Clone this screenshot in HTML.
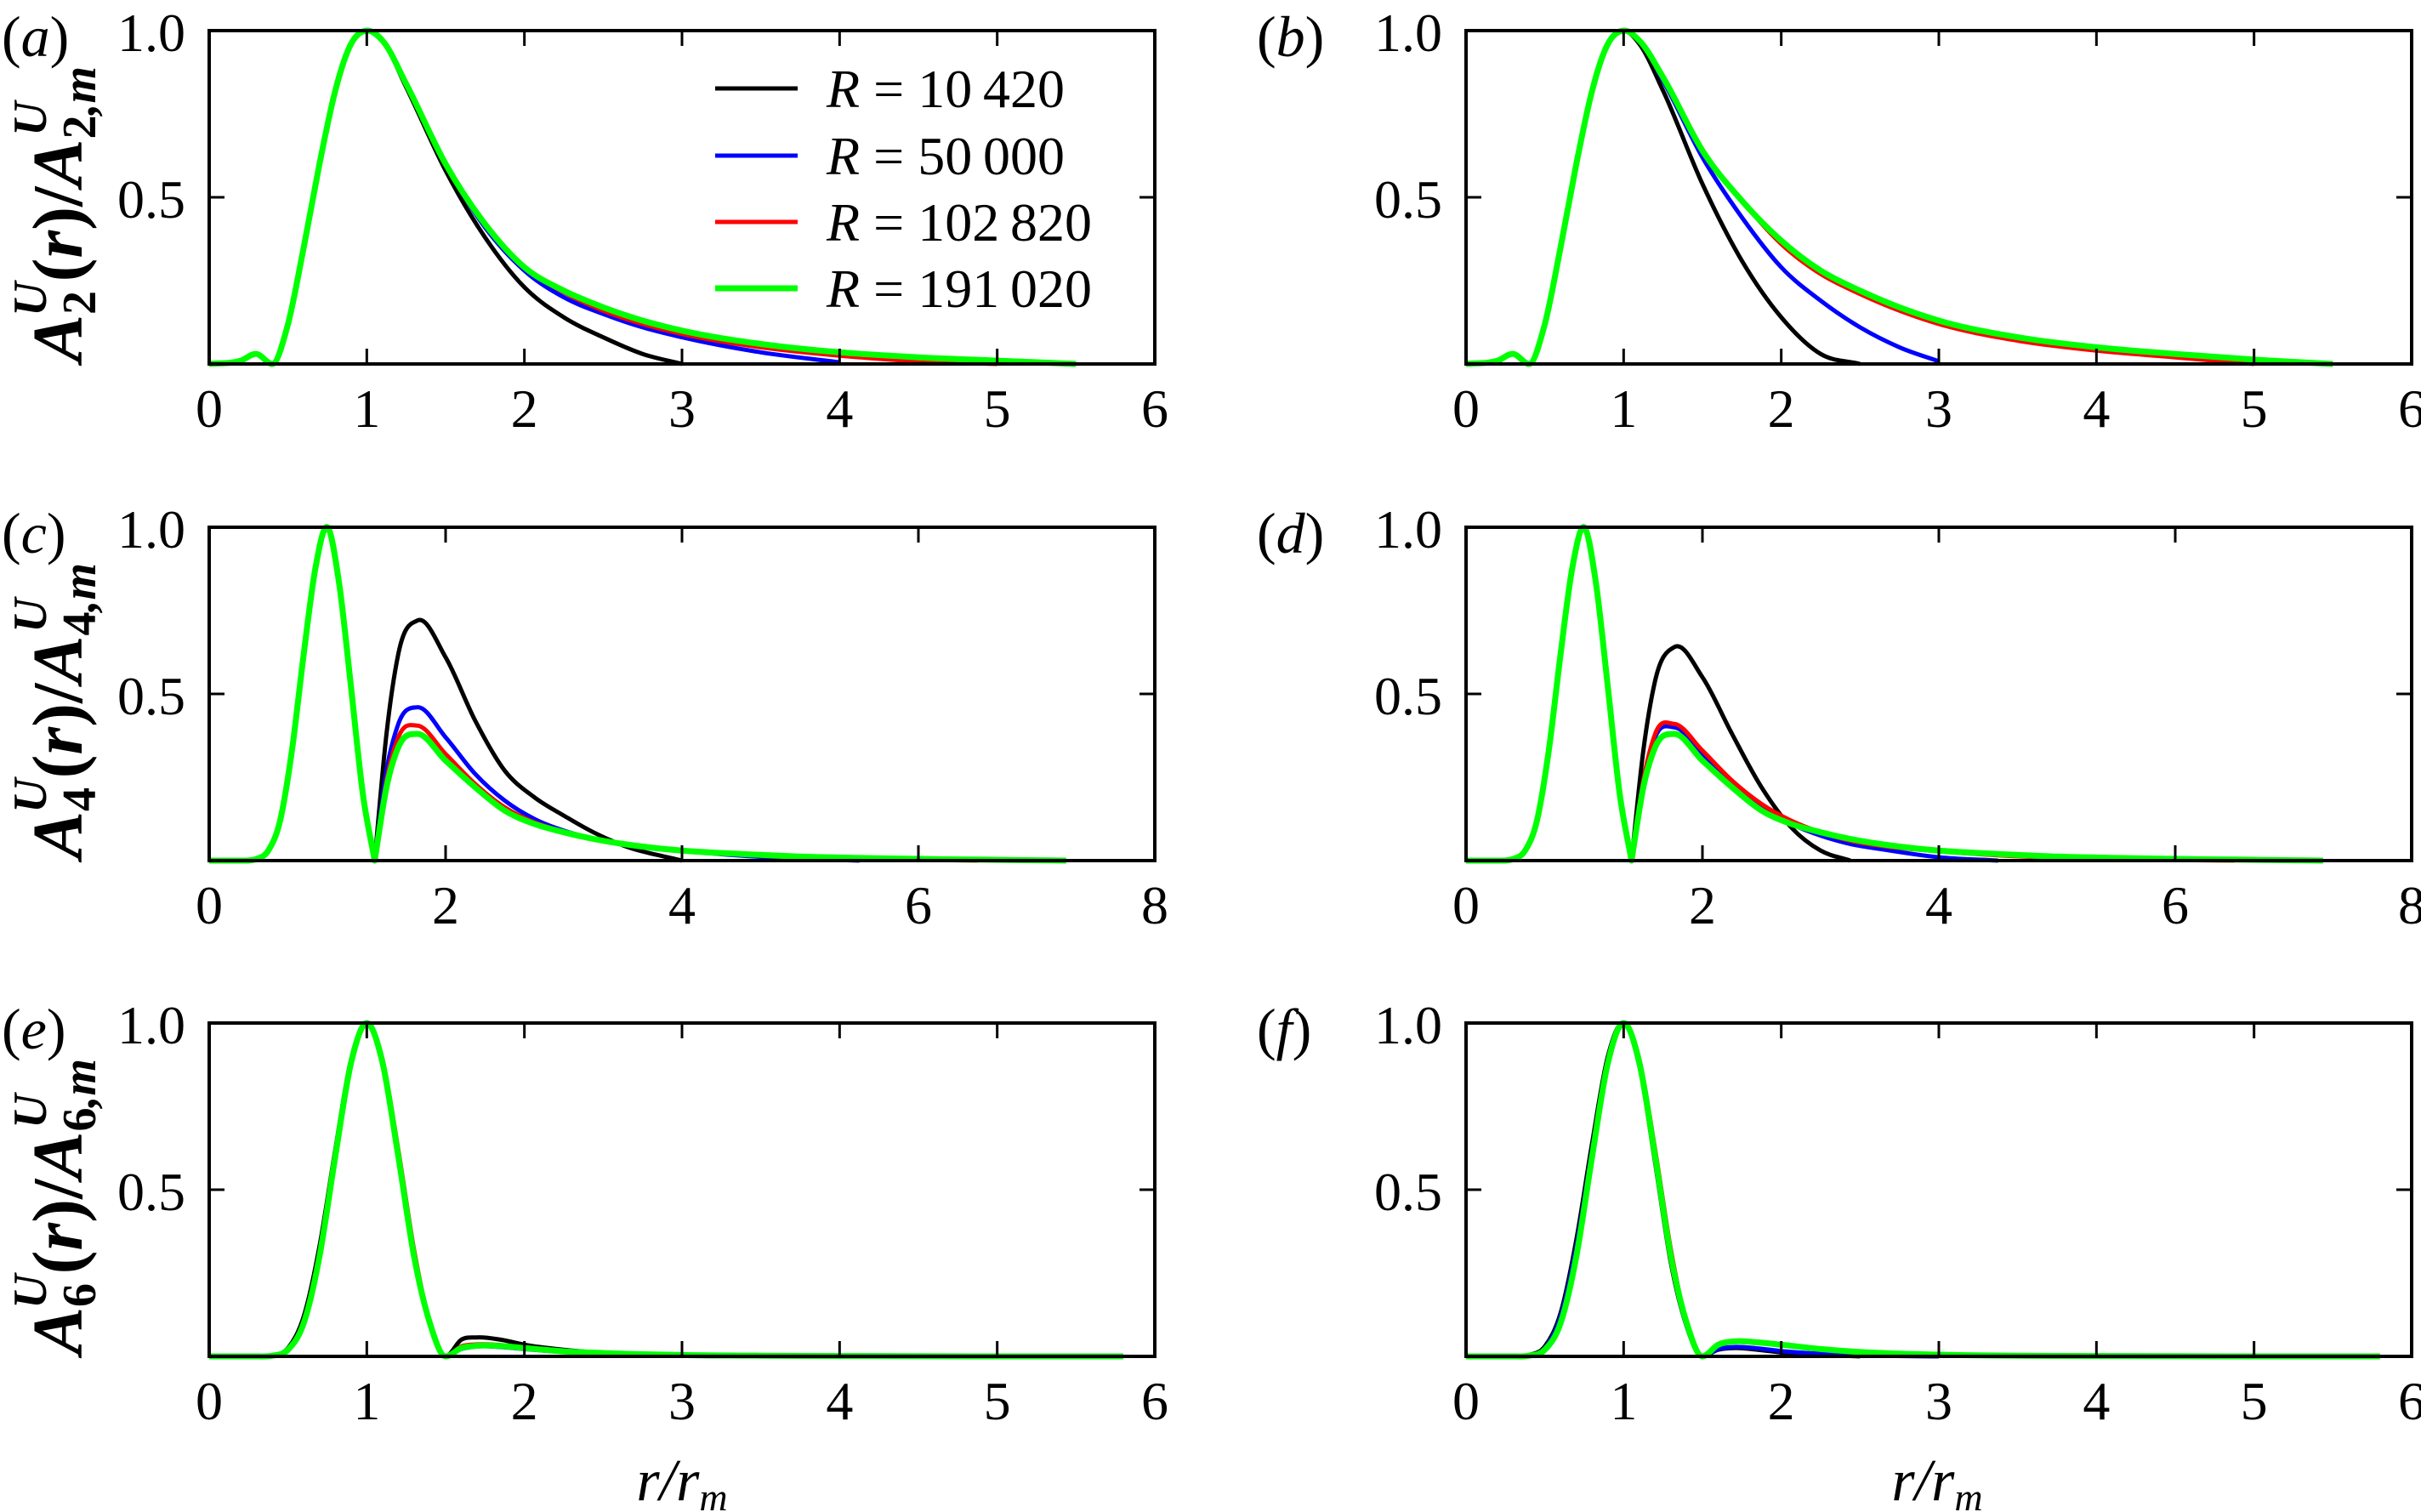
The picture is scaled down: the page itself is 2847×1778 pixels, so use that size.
<!DOCTYPE html>
<html><head><meta charset="utf-8">
<style>
html,body{margin:0;padding:0;background:#fff;}
svg{display:block;font-family:"Liberation Serif","Times New Roman",serif;}
svg text{font-family:"Liberation Serif","Times New Roman",serif;fill:#000;}
</style></head>
<body>
<svg id="fig" width="2847" height="1778" viewBox="0 0 2847 1778" font-family="Liberation Serif, serif" xmlns="http://www.w3.org/2000/svg"></svg>
<script>
// ---------- data ----------
const seriesNames = ["R = 10 420", "R = 50 000", "R = 102 820", "R = 191 020"];
const seriesColors = ["#000000", "#0000ff", "#ff0000", "#00ff00"];

const rRow1 = [0,0.2,0.3,0.4,0.5,0.6,0.7,0.8,0.9,1.0,1.1,1.25,1.5,1.75,2,2.25,2.5,2.75,3,3.5,4,4.5,5,5.5];
const aBlack = [0,0.01,0.03,0,0.12,0.35,0.6,0.82,0.96,1,0.97,0.83,0.58,0.38,0.23,0.14,0.08,0.03,0,null,null,null,null,null];
const aBlue  = [0,0.01,0.03,0,0.12,0.35,0.6,0.82,0.96,1,0.97,0.84,0.6,0.41,0.28,0.2,0.15,0.11,0.08,0.035,0.005,null,null,null];
const aRed   = [0,0.01,0.03,0,0.12,0.35,0.6,0.82,0.96,1,0.97,0.84,0.6,0.42,0.29,0.215,0.16,0.12,0.09,0.05,0.025,0.008,0,null];
const aGreen = [0,0.01,0.03,0,0.12,0.35,0.6,0.82,0.96,1,0.97,0.84,0.6,0.42,0.29,0.22,0.17,0.13,0.10,0.06,0.035,0.02,0.01,0];

const bBlack = [0,0.01,0.03,0,0.12,0.35,0.6,0.82,0.96,1,0.96,0.82,0.54,0.31,0.14,0.03,0,null,null,null,null,null,null,null];
const bBlue  = [0,0.01,0.03,0,0.12,0.35,0.6,0.82,0.96,1,0.97,0.85,0.62,0.44,0.29,0.19,0.11,0.05,0.008,null,null,null,null,null];
const bRed   = [0,0.01,0.03,0,0.12,0.35,0.6,0.82,0.96,1,0.97,0.86,0.64,0.49,0.36,0.27,0.21,0.16,0.12,0.07,0.04,0.02,0,null];
const bGreen = [0,0.01,0.03,0,0.12,0.35,0.6,0.82,0.96,1,0.97,0.86,0.64,0.49,0.37,0.28,0.22,0.17,0.13,0.08,0.05,0.03,0.013,0];

const rRow2 = [0,0.3,0.4,0.5,0.6,0.7,0.8,0.9,1.0,1.1,1.2,1.3,1.4,1.5,1.6,1.76,2,2.25,2.5,2.75,3,3.25,3.5,4,4.5,5,5.5,6,6.5,7,7.25];
const cBlack = [0,0,0.005,0.03,0.12,0.33,0.62,0.88,1,0.83,0.52,0.2,0,0.38,0.62,0.72,0.61,0.42,0.27,0.19,0.135,0.085,0.046,0,null,null,null,null,null,null,null];
const cBlue  = [0,0,0.005,0.03,0.12,0.33,0.62,0.88,1,0.83,0.52,0.2,0,0.27,0.41,0.46,0.37,0.26,0.18,0.125,0.09,0.066,0.05,0.03,0.015,0.006,0,null,null,null,null];
const cRed   = [0,0,0.005,0.03,0.12,0.33,0.62,0.88,1,0.83,0.52,0.2,0,0.24,0.37,0.405,0.32,0.23,0.16,0.115,0.087,0.065,0.05,0.03,0.018,0.01,0.006,0.003,0,null,null];
const cGreen = [0,0,0.005,0.03,0.12,0.33,0.62,0.88,1,0.83,0.52,0.2,0,0.22,0.34,0.38,0.30,0.22,0.15,0.11,0.085,0.065,0.05,0.03,0.02,0.012,0.008,0.005,0.003,0.001,0];

const dBlack = [0,0,0.005,0.03,0.12,0.33,0.62,0.88,1,0.83,0.52,0.2,0,0.33,0.54,0.64,0.55,0.38,0.22,0.10,0.03,0,null,null,null,null,null,null,null,null,null];
const dBlue  = [0,0,0.005,0.03,0.12,0.33,0.62,0.88,1,0.83,0.52,0.2,0,0.24,0.37,0.40,0.32,0.23,0.16,0.11,0.075,0.05,0.035,0.01,0,null,null,null,null,null,null];
const dRed   = [0,0,0.005,0.03,0.12,0.33,0.62,0.88,1,0.83,0.52,0.2,0,0.24,0.38,0.41,0.33,0.24,0.17,0.12,0.085,0.06,0.045,0.028,0.016,0.009,0.005,0.002,0,null,null];
const dGreen = [0,0,0.005,0.03,0.12,0.33,0.62,0.88,1,0.83,0.52,0.2,0,0.22,0.34,0.38,0.30,0.22,0.15,0.11,0.085,0.065,0.05,0.03,0.02,0.012,0.008,0.005,0.003,0.001,0];

const rRow3 = [0,0.3,0.4,0.5,0.6,0.7,0.8,0.9,1.0,1.1,1.2,1.3,1.4,1.5,1.6,1.7,1.85,2,2.25,2.5,3,3.5,4,5,5.8];
const eBlack = [0,0,0.003,0.025,0.12,0.33,0.62,0.89,1,0.88,0.6,0.3,0.1,0,0.05,0.057,0.05,0.035,0.02,0.01,0.002,0,null,null,null];
const eBlue  = [0,0,0.002,0.02,0.1,0.31,0.61,0.89,1,0.89,0.61,0.31,0.1,0,0.022,0.03,0.028,0.022,0.013,0.008,0.003,0.001,0,null,null];
const eRed   = [0,0,0.002,0.02,0.1,0.3,0.6,0.88,1,0.89,0.62,0.32,0.1,0,0.03,0.036,0.034,0.027,0.016,0.01,0.004,0.002,0.001,0,null];
const eGreen = [0,0,0.002,0.02,0.1,0.3,0.6,0.88,1,0.88,0.6,0.3,0.1,0,0.025,0.032,0.031,0.025,0.015,0.01,0.004,0.002,0.001,0,0];

const fBlack = [0,0,0.004,0.03,0.13,0.35,0.64,0.9,1,0.87,0.58,0.28,0.09,0,0.02,0.025,0.02,0.012,0.005,0,null,null,null,null,null];
const fBlue  = [0,0,0.003,0.025,0.12,0.33,0.62,0.89,1,0.87,0.59,0.29,0.09,0,0.022,0.028,0.024,0.016,0.008,0.003,0,null,null,null,null];
const fRed   = [0,0,0.002,0.02,0.1,0.3,0.6,0.88,1,0.89,0.62,0.32,0.1,0,0.035,0.045,0.042,0.035,0.022,0.013,0.005,0.002,0.001,0,null];
const fGreen = [0,0,0.002,0.02,0.1,0.3,0.6,0.88,1,0.88,0.6,0.3,0.1,0,0.035,0.045,0.042,0.035,0.022,0.013,0.005,0.002,0.001,0,0];

const xTicks6 = [0,1,2,3,4,5,6];
const xTicks8 = [0,2,4,6,8];
const yTicks = [0.5,1.0];
const yTickLabels = ["0.5","1.0"];
const panelLetters = ["a","b","c","d","e","f"];
// ----------------------------------------------------

const NS = "http://www.w3.org/2000/svg";
const svg = document.getElementById("fig");
const FF = '"Liberation Serif", serif';
function mk(tag, attrs, parent){
  const e = document.createElementNS(NS, tag);
  for (const k in attrs) e.setAttribute(k, attrs[k]);
  if (tag === "text") e.setAttribute("font-family", "Liberation Serif, serif");
  (parent||svg).appendChild(e);
  return e;
}

const colX = [246, 1724];
const rowY = [36, 620, 1203];
const PW = 1112, PH = 392;

const panels = [
  {row:0,col:0,r:rRow1,xmax:6,ticks:xTicks6,ys:[aBlack,aBlue,aRed,aGreen],n:2,legend:true},
  {row:0,col:1,r:rRow1,xmax:6,ticks:xTicks6,ys:[bBlack,bBlue,bRed,bGreen]},
  {row:1,col:0,r:rRow2,xmax:8,ticks:xTicks8,ys:[cBlack,cBlue,cRed,cGreen],n:4},
  {row:1,col:1,r:rRow2,xmax:8,ticks:xTicks8,ys:[dBlack,dBlue,dRed,dGreen]},
  {row:2,col:0,r:rRow3,xmax:6,ticks:xTicks6,ys:[eBlack,eBlue,eRed,eGreen],n:6},
  {row:2,col:1,r:rRow3,xmax:6,ticks:xTicks6,ys:[fBlack,fBlue,fRed,fGreen]},
];

// cubic Hermite through data points (non-uniform spacing aware), sharp corner at zero minima
function smoothPath(xs, ys, sx, sy){
  const n = xs.length;
  if (n < 2) return "";
  const left = [], right = [];
  for (let i = 0; i < n; i++){
    let ml, mr;
    if (i === 0){ ml = mr = (ys[1]-ys[0])/(xs[1]-xs[0]); }
    else if (i === n-1){ ml = mr = (ys[n-1]-ys[n-2])/(xs[n-1]-xs[n-2]); }
    else {
      const d0 = (ys[i]-ys[i-1])/(xs[i]-xs[i-1]);
      const d1 = (ys[i+1]-ys[i])/(xs[i+1]-xs[i]);
      if (ys[i] === 0 && ys[i-1] > 0.05 && ys[i+1] > 0.05){ ml = d0; mr = d1; }
      else if (d0*d1 <= 0 && ys[i] < 0.15 && ys[i] <= ys[i-1] && ys[i] <= ys[i+1]) { ml = mr = 0; }
      else {
        const h0 = xs[i]-xs[i-1], h1 = xs[i+1]-xs[i];
        const m = (d0*h1 + d1*h0)/(h0+h1);
        ml = mr = m;
      }
    }
    left.push(ml); right.push(mr);
  }
  let d = "M" + sx(xs[0]).toFixed(1) + "," + sy(ys[0]).toFixed(1);
  for (let i = 0; i < n-1; i++){
    const h = xs[i+1]-xs[i];
    const c1x = xs[i] + h/3, c1y = ys[i] + right[i]*h/3;
    const c2x = xs[i+1] - h/3, c2y = ys[i+1] - left[i+1]*h/3;
    d += "C" + sx(c1x).toFixed(1)+","+sy(c1y).toFixed(1)+" "+sx(c2x).toFixed(1)+","+sy(c2y).toFixed(1)+" "+sx(xs[i+1]).toFixed(1)+","+sy(ys[i+1]).toFixed(1);
  }
  return d;
}

panels.forEach((p, idx) => {
  const x0 = colX[p.col], y0 = rowY[p.row];
  const sx = v => x0 + v / p.xmax * PW;
  const sy = v => y0 + PH - v * PH;
  const g = mk("g", {});
  
  

  const cp = mk("clipPath", {id:"clip"+idx}, g);
  mk("rect", {x:x0-2, y:y0-8, width:PW+4, height:PH+20}, cp);

  const sg = mk("g", {"clip-path":"url(#clip"+idx+")"}, g);
  p.ys.forEach((ys, si) => {
    const xs = [], vs = [];
    for (let i = 0; i < p.r.length; i++){
      if (ys[i] === null || ys[i] === undefined) break;
      xs.push(p.r[i]); vs.push(ys[i]);
    }
    const path = mk("path", {d:smoothPath(xs, vs, sx, sy), fill:"none", stroke:seriesColors[si], "stroke-width": si===3?7:5, "stroke-linejoin":"round", "stroke-linecap":"butt"}, sg);
    
    
  });

  const frame = mk("rect", {x:x0, y:y0, width:PW, height:PH, fill:"none", stroke:"#000", "stroke-width":4}, g);
  
  

  p.ticks.forEach(v => {
    const x = sx(v);
    if (v > 0 && v < p.xmax){
      mk("line", {x1:x, y1:y0+PH, x2:x, y2:y0+PH-18, stroke:"#000", "stroke-width":3}, g);
      mk("line", {x1:x, y1:y0, x2:x, y2:y0+18, stroke:"#000", "stroke-width":3}, g);
    }
    const t = mk("text", {x:x, y:y0+PH+74, "font-size":64, "text-anchor":"middle"}, g);
    t.textContent = String(v);
    
    
  });
  yTicks.forEach((v, i) => {
    const y = sy(v);
    if (v < 1){
      mk("line", {x1:x0, y1:y, x2:x0+18, y2:y, stroke:"#000", "stroke-width":3}, g);
      mk("line", {x1:x0+PW, y1:y, x2:x0+PW-18, y2:y, stroke:"#000", "stroke-width":3}, g);
    }
    const t = mk("text", {x:x0-28, y:y+24, "font-size":64, "text-anchor":"end"}, g);
    t.textContent = yTickLabels[i];
    
    
  });

  const pl = mk("text", {x: p.col===0 ? 2 : 1478, y:y0+30, "font-size":68}, g);
  pl.innerHTML = '(<tspan font-style="italic">' + panelLetters[idx] + '</tspan>)';
  
  

  if (p.n){
    const cx = 96, cy = y0 + PH/2 + 20;
    const yl = mk("text", {transform:"translate("+cx+","+cy+") rotate(-90)", x:0, y:0, "font-size":84, "font-style":"italic", "font-weight":"bold", "text-anchor":"middle"}, g);
    yl.innerHTML = 'A<tspan font-size="56" font-style="normal" dy="16">' + p.n + '</tspan><tspan font-size="56" dx="-30" dy="-58">U</tspan><tspan dy="42" font-style="normal">(</tspan>r<tspan font-style="normal">)/</tspan>A<tspan font-size="56" font-style="normal" dy="16">' + p.n + '</tspan><tspan font-size="56">,m</tspan><tspan font-size="56" dx="-82" dy="-58">U</tspan><tspan dx="52" dy="42"> </tspan>';
    
    
  }

  if (p.legend){
    const lg = mk("g", {}, g);
    
    
    const ly = [104, 183, 261, 339];
    seriesNames.forEach((name, si) => {
      const ln = mk("line", {x1:841, y1:ly[si], x2:938, y2:ly[si], stroke:seriesColors[si], "stroke-width": si===3?7:5}, lg);
      
      
      const t = mk("text", {x:972, y:ly[si]+22, "font-size":64}, lg);
      const num = name.slice(4);
      t.innerHTML = '<tspan font-style="italic">R</tspan> = ' + num.replace(" ", "\u2009");
      
      
    });
  }
});

[802, 2278].forEach((cx) => {
  const t = mk("text", {x:cx, y:1764, "font-size":70, "font-style":"italic", "text-anchor":"middle"});
  t.innerHTML = 'r/r<tspan font-size="46" dy="12">m</tspan>';
  
  
});
</script>
</body></html>
